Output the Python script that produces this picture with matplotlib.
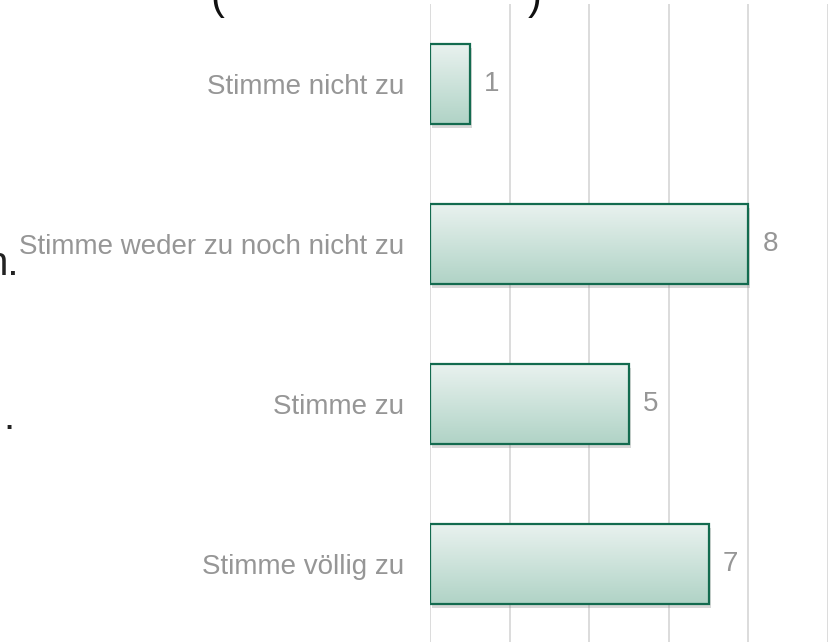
import numpy as np
import matplotlib
matplotlib.use("Agg")
from matplotlib import pyplot as plt
from matplotlib import patheffects
from matplotlib.colors import LinearSegmentedColormap

# Données du graphique
categories = ["Stimme nicht zu", "Stimme weder zu noch nicht zu", "Stimme zu", "Stimme völlig zu"]
values = [1, 8, 5, 7]
x_ticks = [0, 2, 4, 6, 8, 10]

plt.rcParams['font.family'] = ['Liberation Sans', 'DejaVu Sans']

W, H = 830, 642
fig = plt.figure(figsize=(W / 100, H / 100), dpi=100)

# axes en pixels : gauche 430, droite 828, haut 4, bas 644
ax = fig.add_axes([430 / W, (H - 644) / H, (828 - 430) / W, 640 / H])

pos = np.arange(len(categories))
edge = '#136b4f'
gris = '#969696'

# barres de fond avec ombre
ax.barh(pos, values, height=0.5, color='#b0d3c6', zorder=2,
        path_effects=[patheffects.SimplePatchShadow(offset=(1.5, -3), shadow_rgbFace='#808080', alpha=0.3),
                      patheffects.Normal()])

# dégradé dans chaque barre
cmap = LinearSegmentedColormap.from_list('vert', ['#e9f2ef', '#b0d3c6'])
grad = np.linspace(0, 1, 256).reshape(-1, 1)
bars = ax.barh(pos, values, height=0.5, color='none', edgecolor=edge, linewidth=1.6, zorder=4)
for b in bars:
    x0, y0 = b.get_x(), b.get_y()
    x1, y1 = x0 + b.get_width(), y0 + b.get_height()
    ax.imshow(grad, extent=(x0, x1, y1, y0), origin='upper', aspect='auto',
              cmap=cmap, zorder=3, interpolation='bilinear')

# étiquettes de valeur
for p, v in zip(pos, values):
    ax.annotate(str(v), (v, p), xytext=(10, 0), textcoords='offset points',
                va='center', ha='left', fontsize=20, color=gris)

ax.set_xlim(0, 10)
ax.set_ylim(3.5, -0.5)
ax.set_xticks(x_ticks)
ax.set_xticklabels([])
ax.set_yticks(pos)
ax.set_yticklabels(categories, fontsize=20, color=gris)
ax.tick_params(axis='both', length=0)
ax.tick_params(axis='y', pad=18.5)
ax.grid(axis='x', color='#d9d9d9', linewidth=1.3, zorder=0)
ax.set_axisbelow(True)
for s in ax.spines.values():
    s.set_visible(False)

# morceaux du texte de la diapositive, coupés par le cadre
fig.text(19 / W, (H - 275) / H, "n.", fontsize=29, color='#222222', ha='right', va='baseline')
fig.text(14 / W, (H - 429) / H, ".", fontsize=29, color='#222222', ha='right', va='baseline')
fig.text(210 / W, (H - 9) / H, "(", fontsize=30, color='#111111', ha='left', va='baseline')
fig.text(528 / W, (H - 9) / H, ")", fontsize=30, color='#111111', ha='left', va='baseline')

fig.savefig('out.png', dpi=100)
